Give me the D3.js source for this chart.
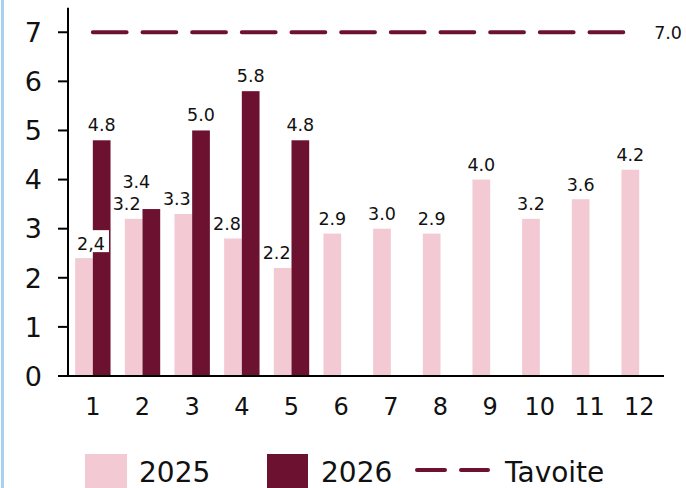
<!DOCTYPE html>
<html><head><meta charset="utf-8">
<script src="https://cdn.jsdelivr.net/npm/d3@7"></script>
<style>
html,body{margin:0;padding:0;background:#fff;}
svg{display:block;font-family:"DejaVu Sans",Verdana,sans-serif;}
</style></head>
<body>
<svg id="chart" width="686" height="488"></svg>
<script>
const months = ["1","2","3","4","5","6","7","8","9","10","11","12"];
const values2025 = [2.4, 3.2, 3.3, 2.8, 2.2, 2.9, 3.0, 2.9, 4.0, 3.2, 3.6, 4.2];
const labels2025 = ["2,4","3.2","3.3","2.8","2.2","2.9","3.0","2.9","4.0","3.2","3.6","4.2"];
const values2026 = [4.8, 3.4, 5.0, 5.8, 4.8];
const labels2026 = ["4.8","3.4","5.0","5.8","4.8"];
const targetValue = 7.0;
const targetLabel = "7.0";
const yTicks = [0,1,2,3,4,5,6,7];
const seriesNames = ["2025","2026","Tavoite"];

// layout-only label nudges (dx, dy) in px
const nudge2025 = [[7,0],[-7,0],[-6.5,0],[-6,0],[-6,0]];
const nudge2026 = [[0,0],[-15,-12],[0,0],[0,0],[0,0]];

const PINK = "#f3cad3", DARK = "#6d1130";
const svg = d3.select("#chart");

// left blue border
svg.append("rect").attr("x",1).attr("y",0).attr("width",3).attr("height",488).attr("fill","#a6d0f2");

const x = d3.scaleBand().domain(months).range([68, 664]).padding(0);
const x1 = d3.scaleBand().domain(["2025","2026"]).range([0, x.bandwidth()]).paddingInner(0).paddingOuter(0.403);
const y = d3.scaleLinear().domain([0, 7.5]).range([376, 7.7]);

// bars 2025
svg.append("g").selectAll("rect").data(values2025).join("rect")
  .attr("x",(d,i)=>x(months[i])+x1("2025"))
  .attr("y",d=>y(d)).attr("width",x1.bandwidth()).attr("height",d=>y(0)-y(d))
  .attr("fill",PINK);
// bars 2026
svg.append("g").selectAll("rect").data(values2026).join("rect")
  .attr("x",(d,i)=>x(months[i])+x1("2026"))
  .attr("y",d=>y(d)).attr("width",x1.bandwidth()).attr("height",d=>y(0)-y(d))
  .attr("fill",DARK);

const LBL = 17.5;
// labels 2025
const lab25 = svg.append("g").attr("font-size",LBL).attr("text-anchor","middle").attr("fill","#111");
values2025.forEach((v,i)=>{
  const n = nudge2025[i] || [0,0];
  const cx = x(months[i]) + x1("2025") + x1.bandwidth()/2 + n[0];
  const by = y(v) - 8.5 + n[1];
  if (i === 0) {
    lab25.append("rect").attr("x",cx-18).attr("y",by-19.5).attr("width",36).attr("height",22).attr("fill","#fff");
  }
  lab25.append("text").attr("x",cx).attr("y",by).text(labels2025[i]);
});
// labels 2026
const lab26 = svg.append("g").attr("font-size",LBL).attr("text-anchor","middle").attr("fill","#111");
values2026.forEach((v,i)=>{
  const n = nudge2026[i] || [0,0];
  const cx = x(months[i]) + x1("2026") + x1.bandwidth()/2 + n[0];
  lab26.append("text").attr("x",cx).attr("y",y(v) - 9 + n[1]).text(labels2026[i]);
});

// target line
const step = x.step();
const tx0 = x(months[0]) + x.bandwidth()/2, tx1 = x(months[months.length-1]) + x.bandwidth()/2;
svg.append("line").attr("x1",tx0).attr("x2",tx1).attr("y1",y(targetValue)).attr("y2",y(targetValue))
  .attr("stroke",DARK).attr("stroke-width",4).attr("stroke-linecap","round")
  .attr("stroke-dasharray",`${step*0.68} ${step*0.32}`);
svg.append("text").attr("x",tx1+15).attr("y",y(targetValue)+6.5).attr("font-size",LBL).attr("fill","#111").text(targetLabel);

// y axis
const yAxis = svg.append("g");
yAxis.append("line").attr("x1",68).attr("x2",68).attr("y1",y(7.5)).attr("y2",y(0)+1).attr("stroke","#000").attr("stroke-width",2);
yAxis.selectAll("line.t").data(yTicks).join("line").attr("class","t")
  .attr("x1",58).attr("x2",68).attr("y1",d=>y(d)).attr("y2",d=>y(d)).attr("stroke","#000").attr("stroke-width",2);
yAxis.selectAll("text").data(yTicks).join("text")
  .attr("x",42).attr("y",d=>y(d)+9.8).attr("text-anchor","end").attr("font-size",27).attr("fill","#111").text(d=>d);

// x axis
svg.append("line").attr("x1",58).attr("x2",664).attr("y1",y(0)).attr("y2",y(0)).attr("stroke","#000").attr("stroke-width",2);
svg.append("g").selectAll("text").data(months).join("text")
  .attr("x",d=>x(d)+x.bandwidth()/2).attr("y",415).attr("text-anchor","middle")
  .attr("font-size",24).attr("fill","#111").text(d=>d);

// legend
const lg = svg.append("g").attr("font-size",28).attr("fill","#111");
lg.append("rect").attr("x",85).attr("y",454).attr("width",42).attr("height",40).attr("fill",PINK);
lg.append("text").attr("x",139).attr("y",482).text(seriesNames[0]);
lg.append("rect").attr("x",267).attr("y",454).attr("width",41).attr("height",40).attr("fill",DARK);
lg.append("text").attr("x",321).attr("y",482).text(seriesNames[1]);
lg.append("line").attr("x1",417).attr("x2",445).attr("y1",470).attr("y2",470).attr("stroke",DARK).attr("stroke-width",4).attr("stroke-linecap","round");
lg.append("line").attr("x1",461).attr("x2",488).attr("y1",470).attr("y2",470).attr("stroke",DARK).attr("stroke-width",4).attr("stroke-linecap","round");
lg.append("text").attr("x",505).attr("y",482).text(seriesNames[2]);
</script>
</body></html>
